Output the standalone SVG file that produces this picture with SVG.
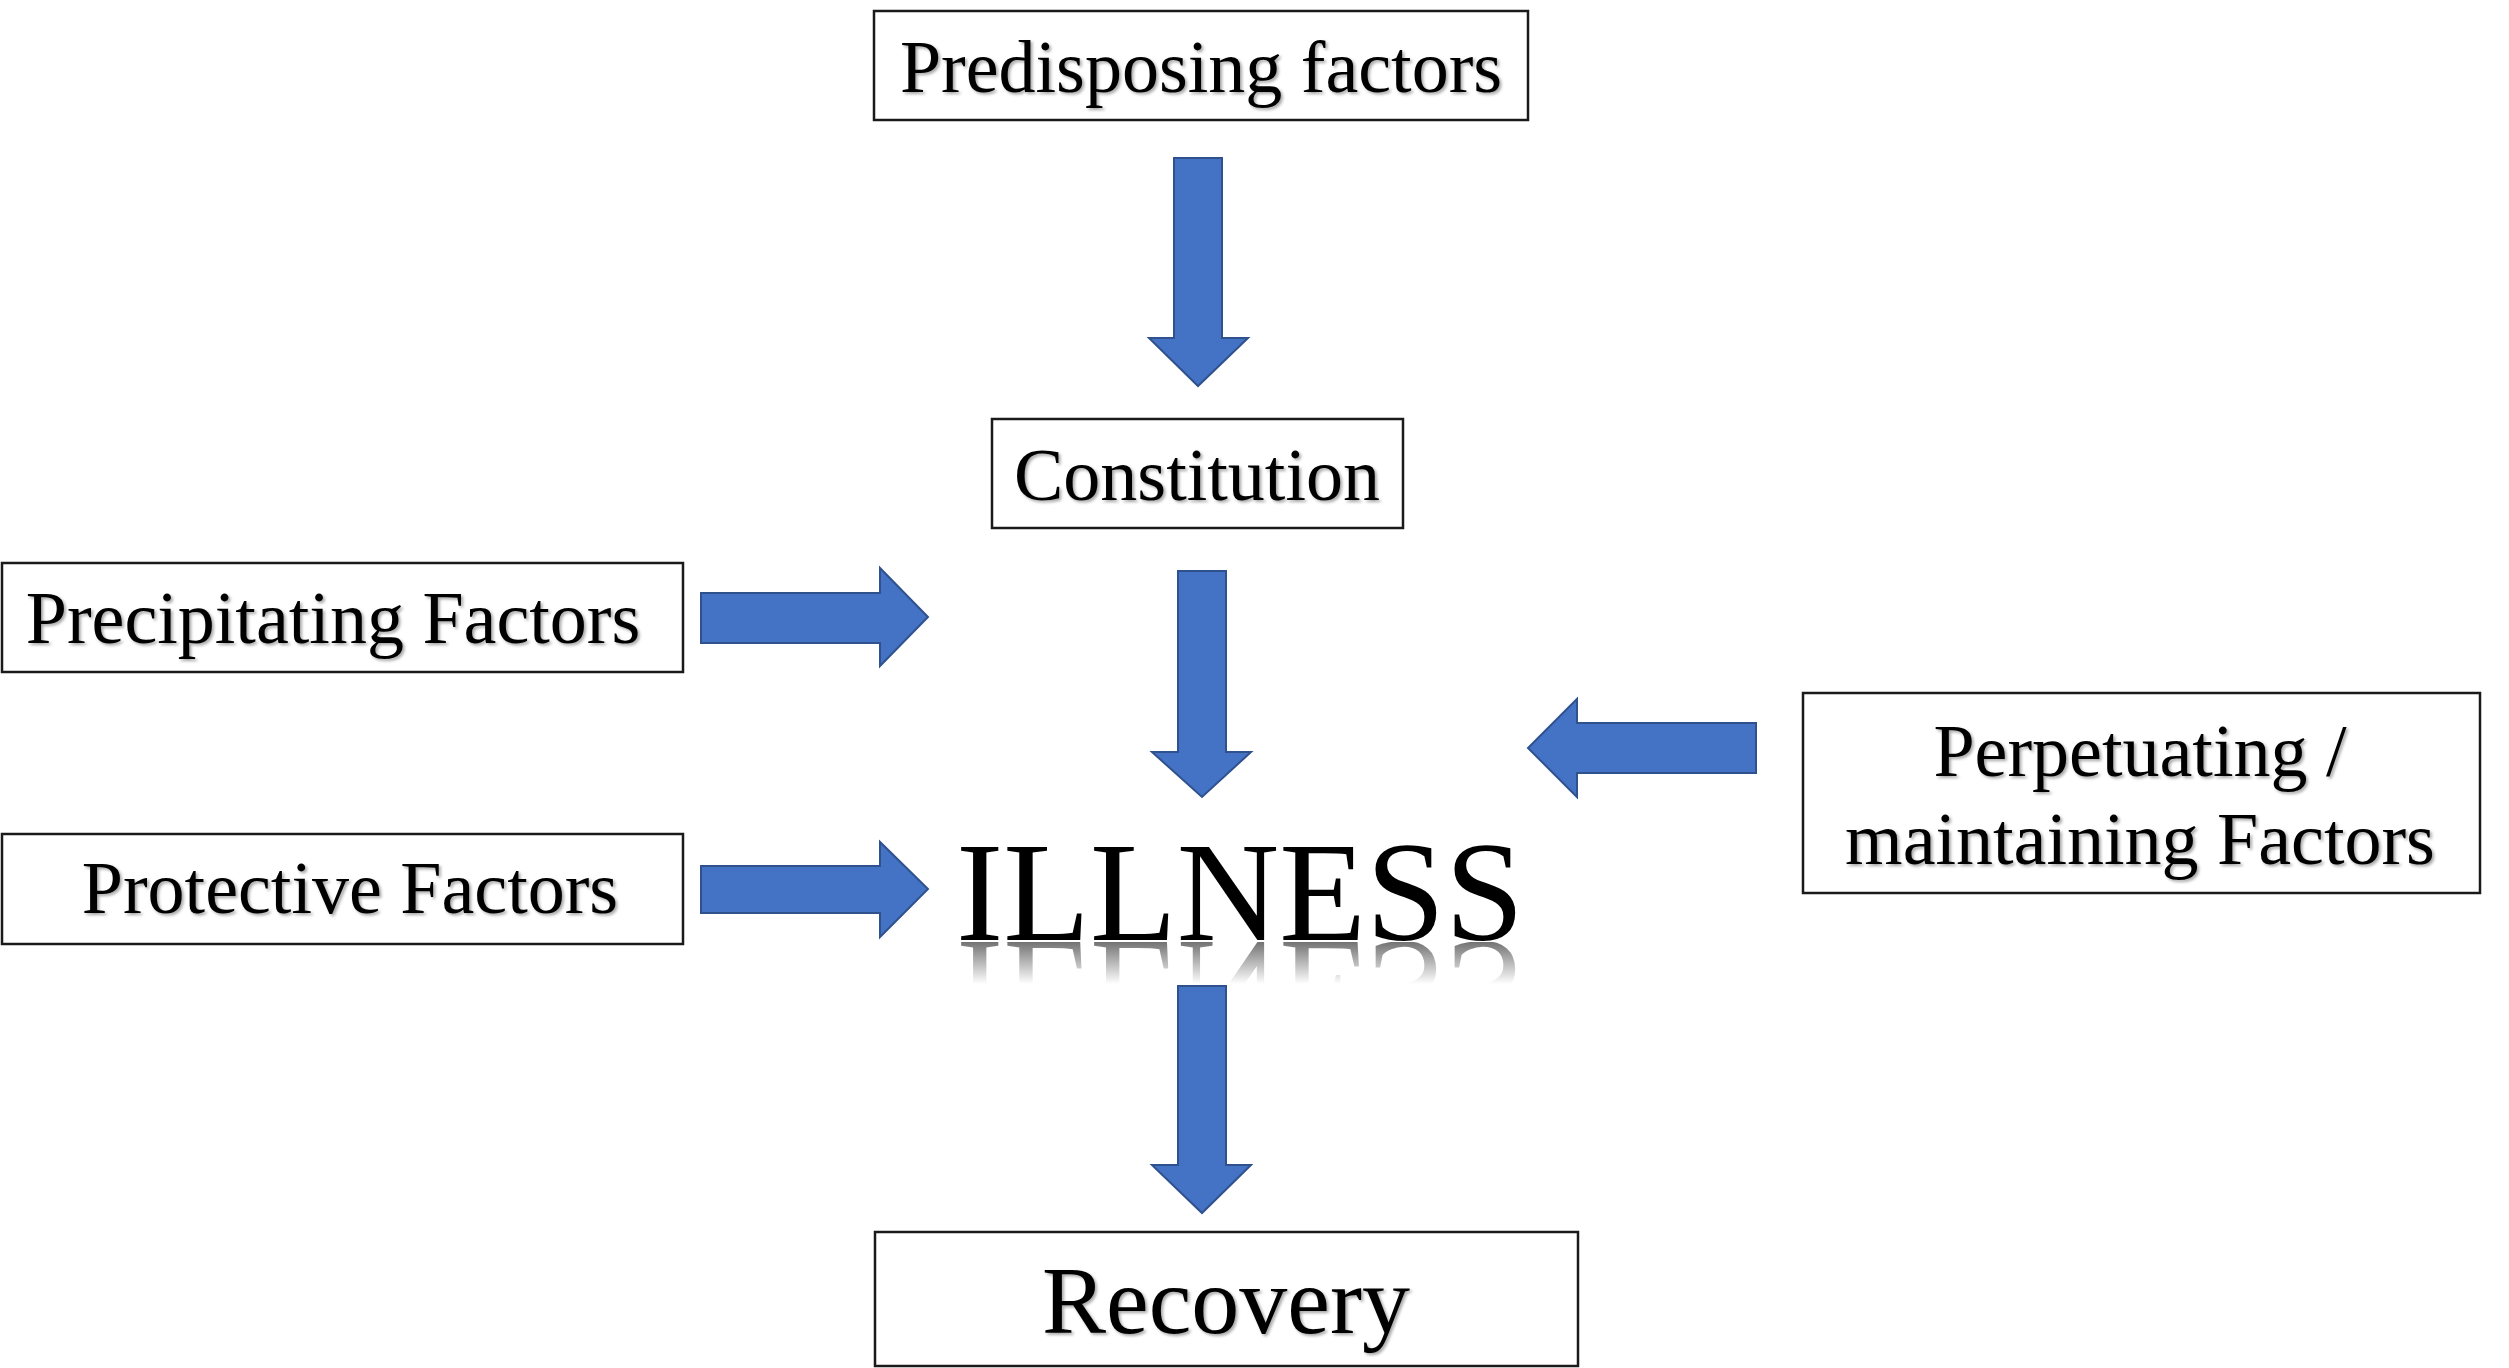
<svg xmlns="http://www.w3.org/2000/svg" width="2509" height="1368" viewBox="0 0 2509 1368">
<style>
.box{fill:#ffffff;stroke:#1a1a1a;stroke-width:2.5}
.lbl{font-family:"Liberation Serif","Times New Roman",serif;font-size:74px;fill:#000;text-anchor:middle;filter:url(#sh)}
.arr{fill:#4472C4;stroke:#2F528F;stroke-width:2;stroke-linejoin:miter}
</style>
<defs>
<filter id="sh" x="-5%" y="-20%" width="110%" height="140%">
<feDropShadow dx="2" dy="2" stdDeviation="1.5" flood-color="#000" flood-opacity="0.35"/>
</filter>
<linearGradient id="fade" gradientUnits="userSpaceOnUse" x1="0" y1="942" x2="0" y2="984">
<stop offset="0" stop-color="#fff" stop-opacity="0.55"/>
<stop offset="1" stop-color="#fff" stop-opacity="0"/>
</linearGradient>
<mask id="refl" maskUnits="userSpaceOnUse" x="0" y="0" width="2509" height="1368">
<rect x="900" y="942" width="700" height="50" fill="url(#fade)"/>
</mask>
</defs>
<rect width="2509" height="1368" fill="#ffffff"/>
<g id="predisposing">
<rect class="box" x="874" y="11" width="654" height="109"/>
<text class="lbl" x="1201" y="92">Predisposing factors</text>
</g>
<g id="constitution">
<rect class="box" x="992" y="419" width="411" height="109"/>
<text class="lbl" x="1197" y="500">Constitution</text>
</g>
<g id="precipitating">
<rect class="box" x="2" y="563" width="681" height="109"/>
<text class="lbl" x="333" y="643">Precipitating Factors</text>
</g>
<g id="protective">
<rect class="box" x="2" y="834" width="681" height="110"/>
<text class="lbl" x="350" y="913">Protective Factors</text>
</g>
<g id="perpetuating">
<rect class="box" x="1803" y="693" width="677" height="200"/>
<text class="lbl" x="2140" y="776">Perpetuating /</text>
<text class="lbl" x="2140" y="864">maintaining Factors</text>
</g>
<g id="illness">
<text x="1240" y="940" font-family="'Liberation Serif','Times New Roman',serif" font-size="142" text-anchor="middle" fill="#000">ILLNESS</text>
<g mask="url(#refl)">
<text x="1240" y="940" transform="translate(0,1882) scale(1,-1)" font-family="'Liberation Serif','Times New Roman',serif" font-size="142" text-anchor="middle" fill="#000">ILLNESS</text>
</g>
</g>
<g id="recovery">
<rect class="box" x="875" y="1232" width="703" height="134"/>
<text class="lbl" x="1226" y="1333" style="font-size:96px">Recovery</text>
</g>
<g id="connectors">
<polygon class="arr" points="1174,158 1222,158 1222,338 1248,338 1198,386 1149,338 1174,338"/>
<polygon class="arr" points="1178,571 1226,571 1226,752 1251,752 1202,797 1152,752 1178,752"/>
<polygon class="arr" points="1178,986 1226,986 1226,1165 1251,1165 1202,1213 1152,1165 1178,1165"/>
<polygon class="arr" points="701,593 880,593 880,568 928,617 880,666 880,643 701,643"/>
<polygon class="arr" points="701,866 880,866 880,842 928,889 880,937 880,913 701,913"/>
<polygon class="arr" points="1756,723 1577,723 1577,699 1528,748 1577,797 1577,773 1756,773"/>
</g>
</svg>
